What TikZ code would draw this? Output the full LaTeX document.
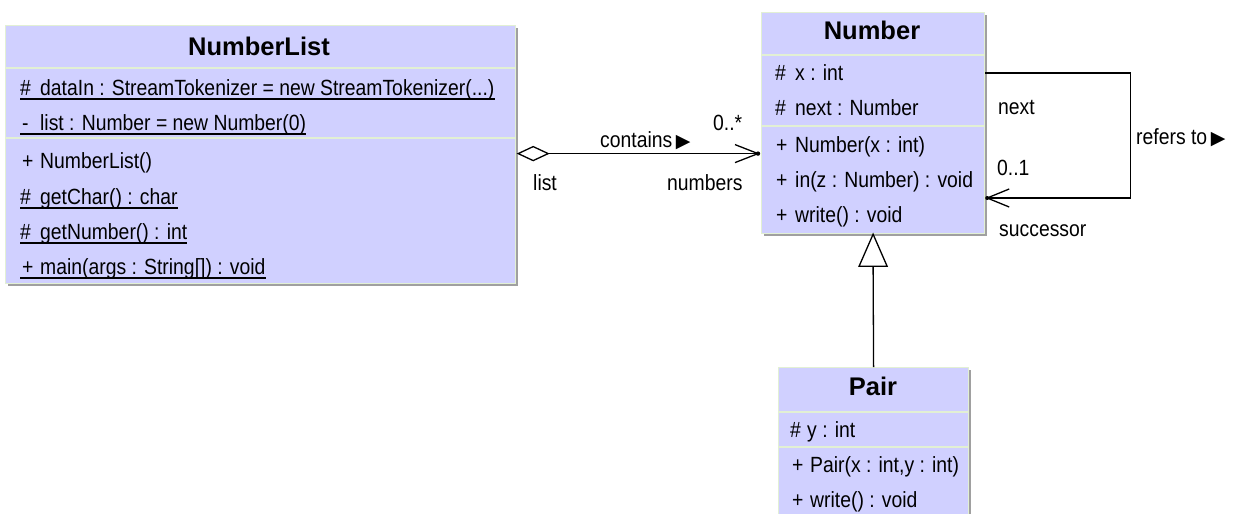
\documentclass[tikz,border=0pt]{standalone}
\usepackage{fontspec}
\setmainfont{Liberation Sans}
\newfontfamily\bodyf[FakeStretch=0.88]{Liberation Sans}
\newfontfamily\symf{DejaVu Sans}
\usetikzlibrary{calc}
\definecolor{umlfill}{RGB}{208,208,255}
\definecolor{umledge}{RGB}{226,240,212}
\definecolor{umlshadow}{RGB}{160,160,160}
\newcommand\tri{{\symf\fontsize{19}{19}\selectfont ▶}}
\begin{document}
\begin{tikzpicture}[x=1pt,y=-1pt,
 cls/.style={rectangle, fill=umlfill, draw=umledge, line width=1.2pt, anchor=north west, inner sep=0pt},
 ttl/.style={font=\fontsize{25.5}{25.5}\selectfont\bfseries, inner sep=0pt},
 mem/.style={font=\bodyf\fontsize{22}{22}\selectfont, inner sep=0pt, anchor=base west},
 lab/.style={font=\bodyf\fontsize{22}{22}\selectfont, inner sep=0pt, anchor=base west},
 sep/.style={draw=umledge, line width=1.5pt},
 uline/.style={line width=1.3pt},
 conn/.style={line width=1.3pt},
 shadow/.style={fill=umlshadow},
]
\useasboundingbox (0,0) rectangle (1235,514);
\fill[white] (0,0) rectangle (1235,514);
\clip (0,0) rectangle (1235,514);

% ---------- NumberList ----------
\fill[shadow] (8,28) rectangle (518,286);
\node[cls, minimum width=510pt, minimum height=258pt] (NL) at (5,25) {};
\node[ttl] (NLt) at (259,46) {NumberList};
\draw[sep] (5,68) -- (515,68);
\draw[sep] (5,138) -- (515,138);
\node[mem] (a1s) at (20,95) {\#};
\node[mem] (a1) at (40,95) {dataIn : StreamTokenizer = new StreamTokenizer(...)};
\draw[uline] ($(a1s.base west)+(0,4)$) -- ($(a1.base east)+(0,4)$);
\node[mem] (a2s) at (22,130) {-};
\node[mem] (a2) at (40,130) {list : Number = new Number(0)};
\draw[uline] ($(a2s.base west)+(-2,4)$) -- ($(a2.base east)+(0,4)$);
\node[mem] (o1s) at (22,168) {+};
\node[mem] (o1) at (40,168) {NumberList()};
\node[mem] (o2s) at (20,204) {\#};
\node[mem] (o2) at (40,204) {getChar() : char};
\draw[uline] ($(o2s.base west)+(0,4)$) -- ($(o2.base east)+(0,4)$);
\node[mem] (o3s) at (20,239) {\#};
\node[mem] (o3) at (40,239) {getNumber() : int};
\draw[uline] ($(o3s.base west)+(0,4)$) -- ($(o3.base east)+(0,4)$);
\node[mem] (o4s) at (22,274) {+};
\node[mem] (o4) at (40,274) {main(args : String[]) : void};
\draw[uline] ($(o4s.base west)+(-2,4)$) -- ($(o4.base east)+(0,4)$);

% ---------- Number ----------
\fill[shadow] (764,15) rectangle (987,236);
\node[cls, minimum width=223pt, minimum height=221pt] (Num) at (761,12) {};
\node[ttl] (Numt) at (872,30) {Number};
\draw[sep] (761,55) -- (984,55);
\draw[sep] (761,126) -- (984,126);
\node[mem] (n1s) at (775,80) {\#};
\node[mem] (n1) at (795,80) {x : int};
\node[mem] (n2s) at (775,115) {\#};
\node[mem] (n2) at (795,115) {next : Number};
\node[mem] (n3s) at (776,152) {+};
\node[mem] (n3) at (795,152) {Number(x : int)};
\node[mem] (n4s) at (776,187) {+};
\node[mem] (n4) at (795,187) {in(z : Number) : void};
\node[mem] (n5s) at (776,222) {+};
\node[mem] (n5) at (795,222) {write() : void};

% ---------- Pair ----------
\fill[shadow] (781,370) rectangle (971,530);
\node[cls, minimum width=190pt, minimum height=160pt] (Pair) at (778,367) {};
\node[ttl] (Pairt) at (873,386) {Pair};
\draw[sep] (778,412) -- (968,412);
\draw[sep] (778,447) -- (968,447);
\node[mem] (p1s) at (790,437) {\#};
\node[mem] (p1) at (807,437) {y : int};
\node[mem] (p2s) at (792,472) {+};
\node[mem] (p2) at (810,472) {Pair(x : int,y : int)};
\node[mem] (p3s) at (792,507) {+};
\node[mem] (p3) at (810,507) {write() : void};

% ---------- aggregation NumberList -> Number ----------
\path (NL.east) ++(2,-1) coordinate (dA);
\draw[conn, fill=white] (dA) -- ++(15,-7) -- ++(15,7) -- ++(-15,7) -- cycle;
\path (Num.west |- dA) ++(-3,0) coordinate (aTip);
\draw[conn] ($(dA)+(30,0)$) -- (aTip);
\draw[conn] (aTip) -- ++(-23,-9) (aTip) -- ++(-23,9);
\fill (aTip) circle (2.2);
\node[lab] (lcont) at (600,147) {contains\,\tri};
\node[lab] (lmult) at (713,130) {0..*};
\node[lab] (llist) at (533,190) {list};
\node[lab] (lnum) at (667,190) {numbers};

% ---------- self association ----------
\path (Num.north east) ++(0,61) coordinate (sOut);
\path (Num.north east) ++(2,186) coordinate (sIn);
\draw[conn] (sOut) -- ++(145,0) |- (sIn);
\draw[conn] (sIn) -- ++(22,-9) (sIn) -- ++(22,9);
\fill (sIn) circle (2);
\node[lab] (lnext) at (998,114) {next};
\node[lab] (l01) at (997,175) {0..1};
\node[lab] (lsucc) at (999,236) {successor};
\node[lab] (lref) at (1136,144) {refers to\,\tri};

% ---------- generalization Pair -> Number ----------
\draw[conn] (Pair.north) -- ($(Num.south)+(0,32)$);
\draw[conn, fill=white] (Num.south) -- ++(14,32) -- ++(-28,0) -- cycle;
\end{tikzpicture}
\end{document}
